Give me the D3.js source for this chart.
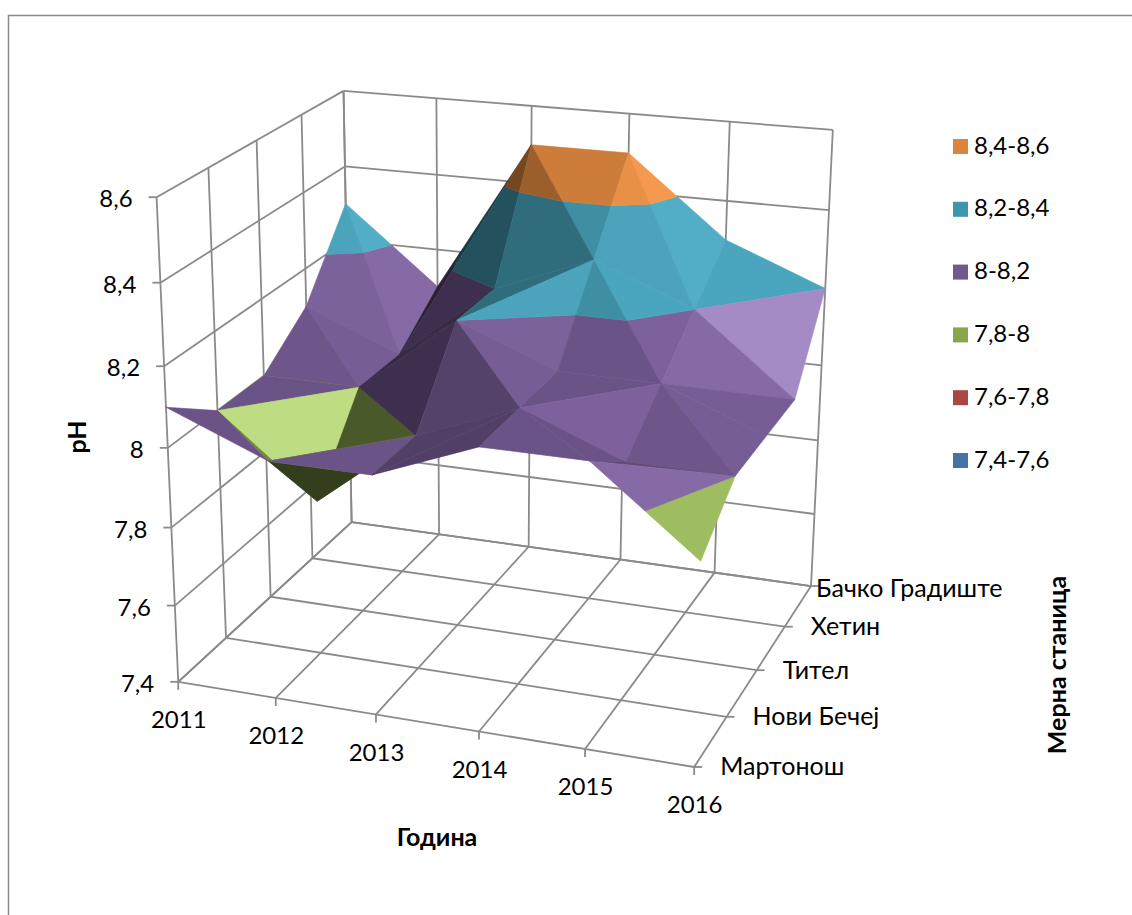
<!DOCTYPE html>
<html>
<head>
<meta charset="utf-8">
<title>pH</title>
<script src="https://cdn.jsdelivr.net/npm/d3@7"></script>
<style>
html,body{margin:0;padding:0;background:#fff}
svg{display:block}
text{font-family:Lato,"Open Sans","Noto Sans",sans-serif;fill:#000}
</style>
</head>
<body>
<svg id="chart" width="1132" height="915"></svg>
<script>
// Measured pH per year, one array per monitoring station.
const years = ["2011","2012","2013","2014","2015","2016"];
const stations = ["Мартонош","Нови Бечеј","Тител","Хетин","Бачко Градиште"];
const martonosh    = [8.1, 8.0, 8.0, 8.1, 8.1, 7.9];
const noviBecej    = [8.0, 7.8, 8.0, 8.1, 8.0, 8.0];
const titel        = [8.0, 8.0, 8.2, 8.1, 8.1, 8.0];
const hetin        = [8.1, 8.0, 8.2, 8.3, 8.2, 8.0];
const backoGradiste= [8.3, 8.1, 8.5, 8.5, 8.3, 8.2];
const phByStation = [martonosh, noviBecej, titel, hetin, backoGradiste];

const phTicks = [7.4,7.6,7.8,8.0,8.2,8.4,8.6];
const phLabels = ["7,4","7,6","7,8","8","8,2","8,4","8,6"];
const bandLabels = ["7,4-7,6","7,6-7,8","7,8-8","8-8,2","8,2-8,4","8,4-8,6"];
const bandFaces = ["#4F81BD","#C0504D","#9BBB59","#8064A2","#4BACC6","#F79646"];
const bandKeys = ["#4572A7","#AA4643","#89A54E","#71588F","#3D96AE","#DB843D"];
// Cells (year index, station index) folded along the opposite diagonal.
const counterFolds = ["2,0","4,2"];

// Box coordinates: x = year, z = station (front to back), y = pH.
const xWorld = d3.scaleLinear().domain([0, years.length-1]).range([0,100]);
const zWorld = d3.scaleLinear().domain([0, stations.length-1]).range([0,100]);
const yWorld = d3.scaleLinear().domain([7.4,8.6]).range([0,90]);

// Screen positions of the box corners fix the camera: [x, z, y, sx, sy].
const boxAnchors = [
  [0,0,0,178,682],[100,0,0,694,767],[100,100,0,811,586],[0,100,0,352,522],
  [0,0,90,157,197],[0,100,90,343,91],[100,100,90,833,130]
];

function solveCamera(anchors){
  const rows=[], rhs=[];
  anchors.forEach(([x,z,y,sx,sy])=>{
    const X=x/100,Z=z/100,Y=y/100,u=sx/1000,v=sy/1000;
    rows.push([X,Z,Y,1,0,0,0,0,-u*X,-u*Z,-u*Y]); rhs.push(u);
    rows.push([0,0,0,0,X,Z,Y,1,-v*X,-v*Z,-v*Y]); rhs.push(v);
  });
  const n=11, A=d3.range(n).map(i=>d3.range(n+1).map(j=>{
    let s=0;
    rows.forEach((r,k)=>{ s+=r[i]*(j<n?r[j]:rhs[k]); });
    return s;
  }));
  for(let c=0;c<n;c++){
    let p=c;
    for(let r=c+1;r<n;r++) if(Math.abs(A[r][c])>Math.abs(A[p][c])) p=r;
    [A[c],A[p]]=[A[p],A[c]];
    for(let r=0;r<n;r++) if(r!==c){
      const f=A[r][c]/A[c][c];
      for(let j=c;j<=n;j++) A[r][j]-=f*A[c][j];
    }
  }
  return d3.range(n).map(i=>A[i][n]/A[i][i]);
}
const cam = solveCamera(boxAnchors);
const depthOf = (x,z,y)=> cam[8]*x/100+cam[9]*z/100+cam[10]*y/100+1;
function project(x,z,y){
  const X=x/100,Z=z/100,Y=y/100,w=depthOf(x,z,y);
  return [1000*(cam[0]*X+cam[1]*Z+cam[2]*Y+cam[3])/w,
          1000*(cam[4]*X+cam[5]*Z+cam[6]*Y+cam[7])/w];
}
// Grid-index position on the surface or walls to pixels.
const toScreen = (i,j,ph)=> project(xWorld(i),zWorld(j),yWorld(ph));

const svg = d3.select("#chart");
const pathOf = d3.line();
const gridColor = "#8a8a8a";
const lastX = years.length-1, lastZ = stations.length-1;

// Chart area outline.
svg.append("path").attr("d","M8.5,915V15.5H1132").attr("fill","none").attr("stroke",gridColor).attr("stroke-width",1.5);

// Walls and floor.
const grid = svg.append("g").attr("fill","none").attr("stroke",gridColor).attr("stroke-width",1.8);
const segment = (a,b)=>grid.append("path").attr("d",pathOf([a,b]));
phTicks.forEach(ph=>{
  segment(toScreen(0,0,ph),toScreen(0,lastZ,ph));
  segment(toScreen(0,lastZ,ph),toScreen(lastX,lastZ,ph));
  const p=toScreen(0,0,ph);
  segment([p[0]-8,p[1]],p);
});
stations.forEach((s,j)=>{
  segment(toScreen(0,j,7.4),toScreen(0,j,8.6));
  segment(toScreen(0,j,7.4),toScreen(lastX,j,7.4));
  const p=toScreen(lastX,j,7.4);
  segment(p,[p[0]+8,p[1]]);
});
years.forEach((y,i)=>{
  segment(toScreen(i,lastZ,7.4),toScreen(i,lastZ,8.6));
  segment(toScreen(i,0,7.4),toScreen(i,lastZ,7.4));
  const p=toScreen(i,0,7.4);
  segment(p,[p[0],p[1]+8]);
});

// Facet brightness: directional light, plus a white highlight added on top.
const highlightLen=Math.hypot(.53,.71,-.43);
const highlight=[.53/highlightLen,.71/highlightLen,-.43/highlightLen];
function facetShade(a,b,c){
  const ax=xWorld(b.i)-xWorld(a.i), ay=yWorld(b.ph)-yWorld(a.ph), az=zWorld(b.j)-zWorld(a.j);
  const bx=xWorld(c.i)-xWorld(a.i), by=yWorld(c.ph)-yWorld(a.ph), bz=zWorld(c.j)-zWorld(a.j);
  let nx=ay*bz-az*by, ny=az*bx-ax*bz, nz=ax*by-ay*bx;
  if(ny<0){nx=-nx;ny=-ny;nz=-nz;}
  const len=Math.hypot(nx,ny,nz); nx/=len;ny/=len;nz/=len;
  const spec=Math.max(0,nx*highlight[0]+ny*highlight[1]+nz*highlight[2]);
  return {diffuse:Math.max(.33,.03+.80*ny+.42*nx-.22*nz), gloss:46*Math.pow(spec,60)};
}
function tint(hex,s){
  const c=d3.rgb(hex), ch=v=>Math.min(255,v*s.diffuse+s.gloss);
  return d3.rgb(ch(c.r),ch(c.g),ch(c.b)).formatHex();
}
// Keep the part of a polygon on one side of a pH level.
function clipAt(poly,level,keepAbove){
  const inside=p=>keepAbove?p.ph>=level-1e-9:p.ph<=level+1e-9, out=[];
  poly.forEach((p,k)=>{
    const q=poly[(k+1)%poly.length];
    if(inside(p)) out.push(p);
    if(inside(p)!==inside(q)){
      const t=(level-p.ph)/(q.ph-p.ph);
      out.push({i:p.i+t*(q.i-p.i),j:p.j+t*(q.j-p.j),ph:level});
    }
  });
  return out;
}
const node=(i,j)=>({i,j,ph:phByStation[j][i]});
const polyArea=pts=>Math.abs(d3.polygonArea(pts));

// Surface facets, painted from the far corner to the near one.
const surface=svg.append("g");
for(let j=lastZ-1;j>=0;j--){
  for(let i=0;i<lastX;i++){
    const a=node(i,j),b=node(i+1,j),c=node(i+1,j+1),d=node(i,j+1);
    // A cell normally folds along the diagonal with the larger pH sum.
    let mainDiagonal=(a.ph+c.ph) > (b.ph+d.ph)+1e-9;
    if(counterFolds.includes(i+","+j)) mainDiagonal=!mainDiagonal;
    const tris = mainDiagonal ? [[a,b,c],[a,c,d]] : [[a,b,d],[b,c,d]];
    const depth=t=>d3.mean(t,p=>depthOf(xWorld(p.i),zWorld(p.j),yWorld(p.ph)));
    tris.sort((s,t)=>depth(t)-depth(s));
    tris.forEach(t=>{
      const shade=facetShade(t[0],t[1],t[2]);
      bandFaces.forEach((face,b)=>{
        const poly=clipAt(clipAt(t,phTicks[b],true),phTicks[b+1],false);
        if(poly.length<3) return;
        const pts=poly.map(p=>toScreen(p.i,p.j,p.ph));
        if(polyArea(pts)<.01) return;
        const col=tint(face,shade);
        surface.append("path")
          .attr("d",pathOf(pts)+"Z")
          .attr("fill",col).attr("stroke",col).attr("stroke-width",.6).attr("stroke-linejoin","round");
      });
    });
  }
}

// Axis labels.
const labels=svg.append("g").attr("font-size",24);
phTicks.forEach((ph,k)=>{
  const p=toScreen(0,0,ph);
  labels.append("text").attr("x",p[0]-24).attr("y",p[1]+4).attr("text-anchor","end")
    .attr("dominant-baseline","middle").text(phLabels[k]);
});
years.forEach((y,i)=>{
  const p=toScreen(i,0,7.4);
  labels.append("text").attr("x",p[0]+.5).attr("y",p[1]+40).attr("text-anchor","middle")
    .attr("dominant-baseline","middle").text(y);
});
stations.forEach((s,j)=>{
  const p=toScreen(lastX,j,7.4);
  labels.append("text").attr("x",p[0]+(j===lastZ?5:26)).attr("y",p[1]+(j===lastZ?5:2)).attr("font-size",25)
    .attr("dominant-baseline","middle").text(s);
});

// Axis titles.
const titles=svg.append("g").attr("font-size",25).attr("font-weight",700);
titles.append("text").attr("x",437).attr("y",840).attr("text-anchor","middle").attr("dominant-baseline","middle").text("Година");
titles.append("text").attr("transform","translate(80,437) rotate(-90)").attr("text-anchor","middle").attr("dominant-baseline","middle").text("pH");
titles.append("text").attr("transform","translate(1060,665) rotate(-90)").attr("text-anchor","middle").attr("dominant-baseline","middle").text("Мерна станица");

// Legend, highest band first.
const legendY=d3.scalePoint().domain(d3.range(bandLabels.length).reverse()).range([146.5,460.5]);
const legend=svg.append("g").selectAll("g").data(d3.range(bandLabels.length)).join("g")
  .attr("transform",b=>`translate(953,${legendY(b)})`);
legend.append("rect").attr("y",-7.5).attr("width",15).attr("height",15).attr("fill",b=>bandKeys[b]);
legend.append("text").attr("x",21).attr("y",1).attr("font-size",24).attr("dominant-baseline","middle").text(b=>bandLabels[b]);
</script>
</body>
</html>
